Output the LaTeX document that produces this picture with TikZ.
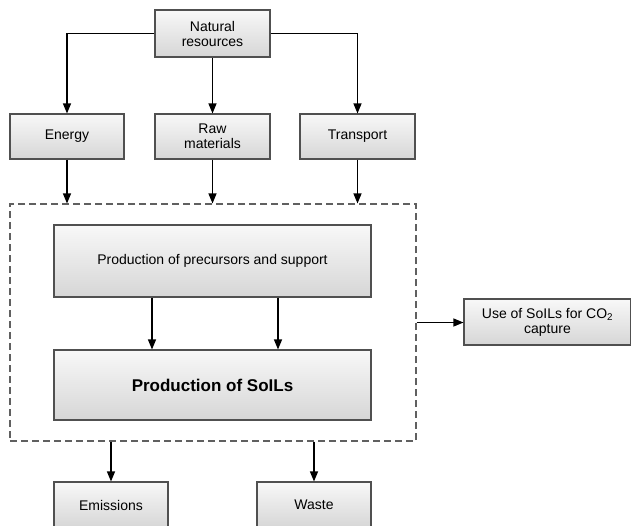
\documentclass[tikz,border=0pt]{standalone}
\usepackage{fontspec}
\setmainfont{Liberation Sans}
\usetikzlibrary{arrows.meta}
\definecolor{boxline}{HTML}{505050}
\definecolor{topc}{HTML}{F8F8F8}
\definecolor{botc}{HTML}{D6D6D6}
\definecolor{dashc}{HTML}{606060}
\begin{document}
\begin{tikzpicture}[x=1pt,y=-1pt,
  box/.style={draw=boxline, line width=1.1pt, top color=topc, bottom color=botc,
    align=center, font=\fontsize{14}{15}\selectfont, inner sep=0pt},
  sysbox/.style={draw=dashc, line width=1.1pt, dash pattern=on 7pt off 4pt, inner sep=0pt},
  conn/.style={line width=1.2pt, draw=black, -{Triangle[length=10pt,width=8pt]}}]
\useasboundingbox (0,0) rectangle (631,525);
\clip (0,0) rectangle (631,525);
\fill[white] (0,0) rectangle (631,525);
\node[sysbox, minimum width=406pt, minimum height=237pt] (sys) at (213,322.5) {};
\node[box, minimum width=115pt, minimum height=47pt] (nat) at (212.5,33.5) {Natural\\resources};
\node[box, minimum width=114pt, minimum height=45pt] (energy) at (67,136.5) {Energy};
\node[box, minimum width=115pt, minimum height=45pt] (raw) at (212.5,136.5) {Raw\\materials};
\node[box, minimum width=115pt, minimum height=45pt] (trans) at (357.5,136.5) {Transport};
\node[box, minimum width=317pt, minimum height=72pt] (prec) at (212.5,261) {Production of precursors and support};
\node[box, minimum width=317pt, minimum height=70pt, font=\fontsize{17}{19}\selectfont\bfseries] (soil) at (212.5,385) {Production of SoILs};
\node[box, minimum width=167pt, minimum height=46pt] (use) at (547.5,322) {Use of SoILs for CO\textsubscript{2}\\capture};
\node[box, minimum width=114pt, minimum height=46pt] (emis) at (111,505) {Emissions};
\node[box, minimum width=114pt, minimum height=46pt] (waste) at (314,505) {Waste};
\draw[conn] (nat.west) -| (energy.north);
\draw[conn] (nat.east) -| (trans.north);
\draw[conn] (nat.south) -- (raw.north);
\draw[conn] (energy.south) -- (energy.south |- sys.north);
\draw[conn] (raw.south) -- (raw.south |- sys.north);
\draw[conn] (trans.south) -- (trans.south |- sys.north);
\draw[conn] ([xshift=-60.5pt]prec.south) -- ([xshift=-60.5pt]soil.north);
\draw[conn] ([xshift=65.5pt]prec.south) -- ([xshift=65.5pt]soil.north);
\draw[conn] (sys.east) -- (sys.east -| use.west);
\draw[conn] (emis.north |- sys.south) -- (emis.north);
\draw[conn] (waste.north |- sys.south) -- (waste.north);
\end{tikzpicture}
\end{document}
